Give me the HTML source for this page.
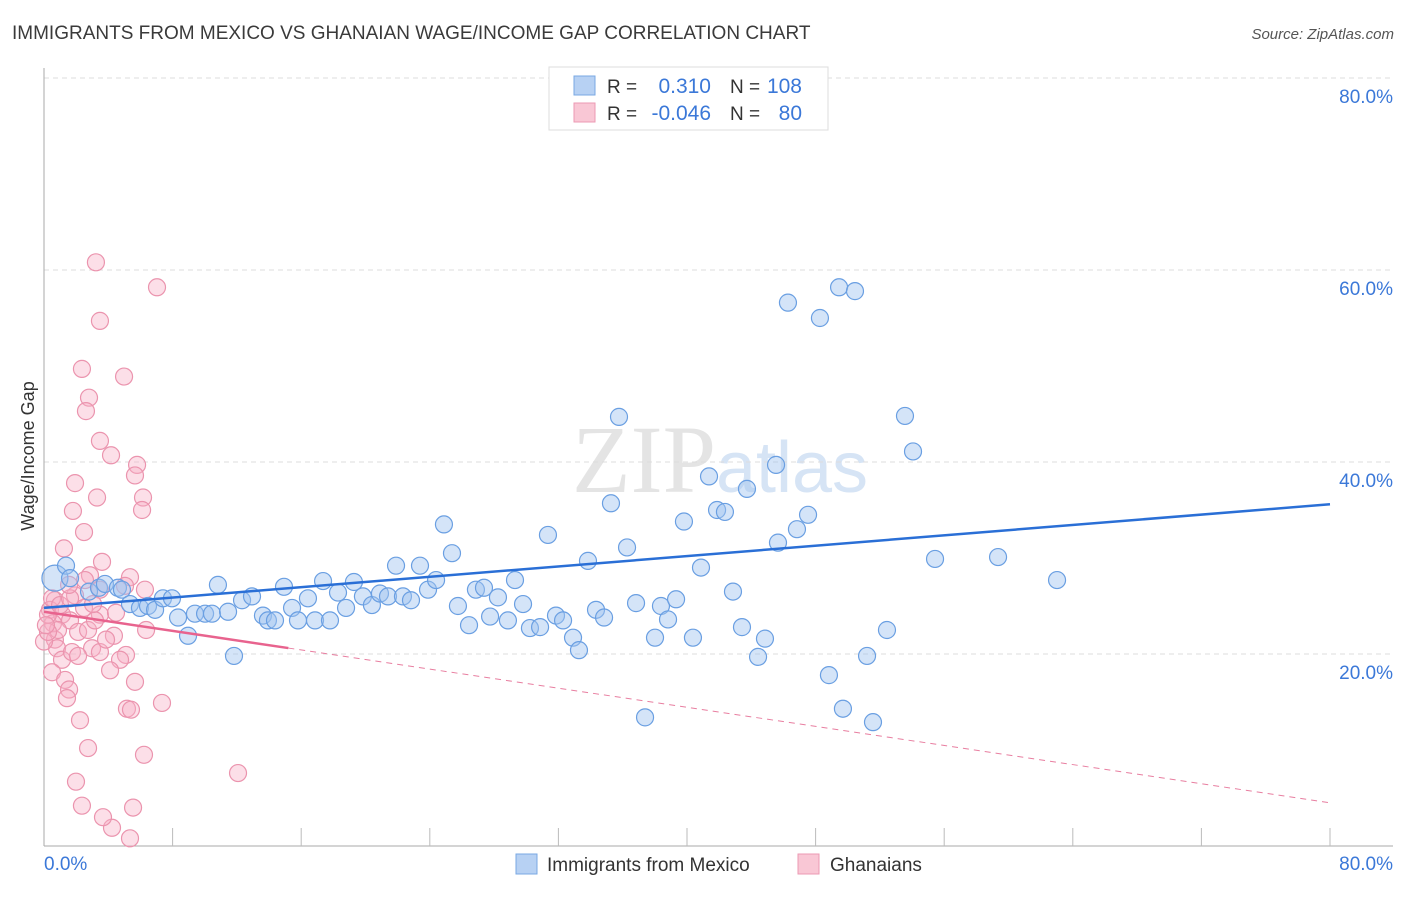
<!DOCTYPE html>
<html><head><meta charset="utf-8"><style>
body{margin:0;background:#fff;font-family:"Liberation Sans",sans-serif;}
</style></head><body>
<svg width="1406" height="892" xmlns="http://www.w3.org/2000/svg" font-family="Liberation Sans, sans-serif">
<text x="12" y="39" font-size="19" fill="#3a3a3a">IMMIGRANTS FROM MEXICO VS GHANAIAN WAGE/INCOME GAP CORRELATION CHART</text>
<text x="1394" y="39" font-size="15" fill="#555" font-style="italic" text-anchor="end">Source: ZipAtlas.com</text>
<text x="720" y="492" font-size="96" fill="#e4e4e4" text-anchor="middle" font-family="Liberation Serif, serif">ZIP<tspan fill="#d6e4f5" font-family="Liberation Sans, sans-serif" font-size="72">atlas</tspan></text>
<g id="grid"></g>
<g id="axes"></g>
<text transform="translate(34,456) rotate(-90)" font-size="18" fill="#333" text-anchor="middle">Wage/Income Gap</text>
<g id="pink"></g>
<g id="blue"></g>
<g id="trends"></g>
<g>
<rect x="549" y="67" width="279" height="63" fill="#fff" stroke="#ddd"/>
<rect x="574" y="76" width="21" height="19" fill="#b7d1f3" stroke="#7aa8e3"/>
<rect x="574" y="103" width="21" height="19" fill="#f9c7d5" stroke="#ec9ab3"/>
<text x="607" y="93" font-size="19" fill="#333">R = </text><text x="711" y="93" font-size="21" fill="#3b78d8" text-anchor="end">0.310</text>
<text x="730" y="93" font-size="19" fill="#333">N = </text><text x="802" y="93" font-size="21" fill="#3b78d8" text-anchor="end">108</text>
<text x="607" y="120" font-size="19" fill="#333">R = </text><text x="711" y="120" font-size="21" fill="#3b78d8" text-anchor="end">-0.046</text>
<text x="730" y="120" font-size="19" fill="#333">N = </text><text x="802" y="120" font-size="21" fill="#3b78d8" text-anchor="end">80</text>
</g>
<g>
<rect x="516" y="854" width="21" height="20" fill="#b7d1f3" stroke="#7aa8e3"/>
<text x="547" y="871" font-size="19" fill="#333">Immigrants from Mexico</text>
<rect x="798" y="854" width="21" height="20" fill="#f9c7d5" stroke="#ec9ab3"/>
<text x="830" y="871" font-size="19" fill="#333">Ghanaians</text>
</g>
</svg>
<script>
const blueX=[0.68,1.37,1.62,2.80,3.42,3.79,4.60,4.85,5.35,5.97,6.47,6.91,7.40,7.96,8.34,8.96,9.39,10.02,10.45,10.82,11.45,11.82,12.32,12.94,13.62,13.93,14.37,14.93,15.43,15.80,16.42,16.86,17.36,17.79,18.29,18.79,19.28,19.84,20.40,20.90,21.40,21.90,22.33,22.83,23.39,23.89,24.39,24.88,25.38,25.75,26.44,26.87,27.37,27.75,28.24,28.86,29.30,29.80,30.23,30.86,31.35,31.85,32.29,32.91,33.28,33.84,34.34,34.84,35.27,35.77,36.27,36.83,37.39,38.01,38.38,38.82,39.32,39.81,40.37,40.87,41.37,41.87,42.36,42.86,43.42,43.73,44.42,44.85,45.54,45.66,46.28,46.84,47.53,48.83,48.27,49.46,49.70,50.45,51.20,51.57,52.44,53.56,54.06,55.43,59.35,63.02];
const blueY=[27.9,29.2,27.9,26.5,26.9,27.3,26.9,26.7,25.2,24.8,25.0,24.6,25.8,25.8,23.8,21.9,24.2,24.2,24.2,27.2,24.4,19.8,25.6,26.0,24.0,23.5,23.5,27.0,24.8,23.5,25.8,23.5,27.6,23.5,26.4,24.8,27.5,26.0,25.1,26.3,26.0,29.2,26.0,25.6,29.2,26.7,27.7,33.5,30.5,25.0,23.0,26.7,26.9,23.9,25.9,23.5,27.7,25.2,22.7,22.8,32.4,24.0,23.5,21.7,20.4,29.7,24.6,23.8,35.7,44.7,31.1,25.3,13.4,21.7,25.0,23.6,25.7,33.8,21.7,29.0,38.5,35.0,34.8,26.5,22.8,37.2,19.7,21.6,39.7,31.6,56.6,33.0,34.5,17.8,55.0,58.2,14.3,57.8,19.8,12.9,22.5,44.8,41.1,29.9,30.1,27.7];
const pinkX=[3.23,7.03,3.48,2.36,4.98,2.80,2.61,3.48,4.17,5.79,5.66,6.16,6.10,1.93,3.30,1.24,1.80,2.49,3.61,2.86,5.35,6.28,5.04,3.48,2.55,1.93,0.68,0.37,1.12,1.62,2.12,2.74,3.48,4.48,4.35,5.10,6.35,2.99,3.48,0.68,0.81,1.12,1.74,2.12,0.50,1.31,1.56,1.43,2.24,2.74,1.99,2.36,5.66,5.16,5.41,7.34,6.22,12.07,4.23,5.54,3.67,5.35,0.56,0.87,0.25,0.50,1.00,1.62,0,0.25,0.12,3.17,3.86,4.73,2.49,3.05,1.56,4.11];
const pinkY=[60.8,58.2,54.7,49.7,48.9,46.7,45.3,42.2,40.7,39.7,38.6,36.3,35.0,37.8,36.3,31.0,34.9,32.7,29.6,28.2,28.0,26.7,27.1,26.7,27.7,26.1,25.6,24.6,24.1,23.5,22.3,22.5,24.1,24.3,21.9,19.9,22.5,20.6,20.2,21.5,20.6,19.4,20.2,19.8,18.1,17.3,16.3,15.4,13.1,10.2,6.7,4.2,17.1,14.3,14.2,14.9,9.5,7.6,1.9,4.0,3.0,0.8,23.2,22.5,24.1,25.8,25.1,25.8,21.3,22.3,23.0,23.5,21.5,19.4,24.8,25.2,27.2,18.3];
const blueTrend=[24.8,35.6];
const pinkTrend=[24.4,4.5];
const pinkSolidEnd=15.2;
const yTicks=[20,40,60,80];
const xTickVals=[8,16,24,32,40,48,56,64,72,80];

const NS="http://www.w3.org/2000/svg";
const X=v=>44+v*16.075, Y=v=>846-v*9.6;
function mk(tag,attrs,parent){const e=document.createElementNS(NS,tag);for(const k in attrs)e.setAttribute(k,attrs[k]);parent.appendChild(e);return e;}
const grid=document.getElementById('grid'),axes=document.getElementById('axes');
yTicks.forEach(t=>{
  const l=mk('line',{x1:44,x2:1393,y1:Y(t),y2:Y(t),stroke:'#ddd','stroke-dasharray':'5,4'},grid);
  
  
  const tx=mk('text',{x:1393,y:Y(t)+25,'font-size':19,fill:'#3b78d8','text-anchor':'end'},axes);
  tx.textContent=t.toFixed(1)+'%';
  
  
});
mk('line',{x1:44,x2:44,y1:68,y2:846,stroke:'#aaa'},axes);
mk('line',{x1:44,x2:1393,y1:846,y2:846,stroke:'#aaa'},axes);
xTickVals.forEach(t=>{
  const l=mk('line',{x1:X(t),x2:X(t),y1:828,y2:846,stroke:'#bbb'},axes);
  
  
});
const xl=mk('text',{x:44,y:870,'font-size':19,fill:'#3b78d8'},axes);xl.textContent='0.0%';


const xr=mk('text',{x:1393,y:870,'font-size':19,fill:'#3b78d8','text-anchor':'end'},axes);xr.textContent='80.0%';



const pg=document.getElementById('pink');
pinkX.forEach((v,i)=>{
  const c=mk('circle',{cx:X(v),cy:Y(pinkY[i]),r:8.5,fill:'rgba(248,175,197,0.4)',stroke:'#eb94ae','stroke-width':1.2},pg);
  
  
});
const bg=document.getElementById('blue');
blueX.forEach((v,i)=>{
  const c=mk('circle',{cx:X(v),cy:Y(blueY[i]),r:i===0?13:8.5,fill:'rgba(160,195,240,0.45)',stroke:'#6a9fe2','stroke-width':1.2},bg);
  
  
});
const tg=document.getElementById('trends');
const pl=t=>pinkTrend[0]+(pinkTrend[1]-pinkTrend[0])*t/80;
const pd=mk('line',{x1:X(pinkSolidEnd),y1:Y(pl(pinkSolidEnd)),x2:X(80),y2:Y(pinkTrend[1]),stroke:'#e87ea0','stroke-width':1,'stroke-dasharray':'6,5'},tg);


const ps=mk('line',{x1:X(0),y1:Y(pinkTrend[0]),x2:X(pinkSolidEnd),y2:Y(pl(pinkSolidEnd)),stroke:'#e8638e','stroke-width':2.5},tg);


const bl=mk('line',{x1:X(0),y1:Y(blueTrend[0]),x2:X(80),y2:Y(blueTrend[1]),stroke:'#2a6fd6','stroke-width':2.5},tg);


</script>
</body></html>
